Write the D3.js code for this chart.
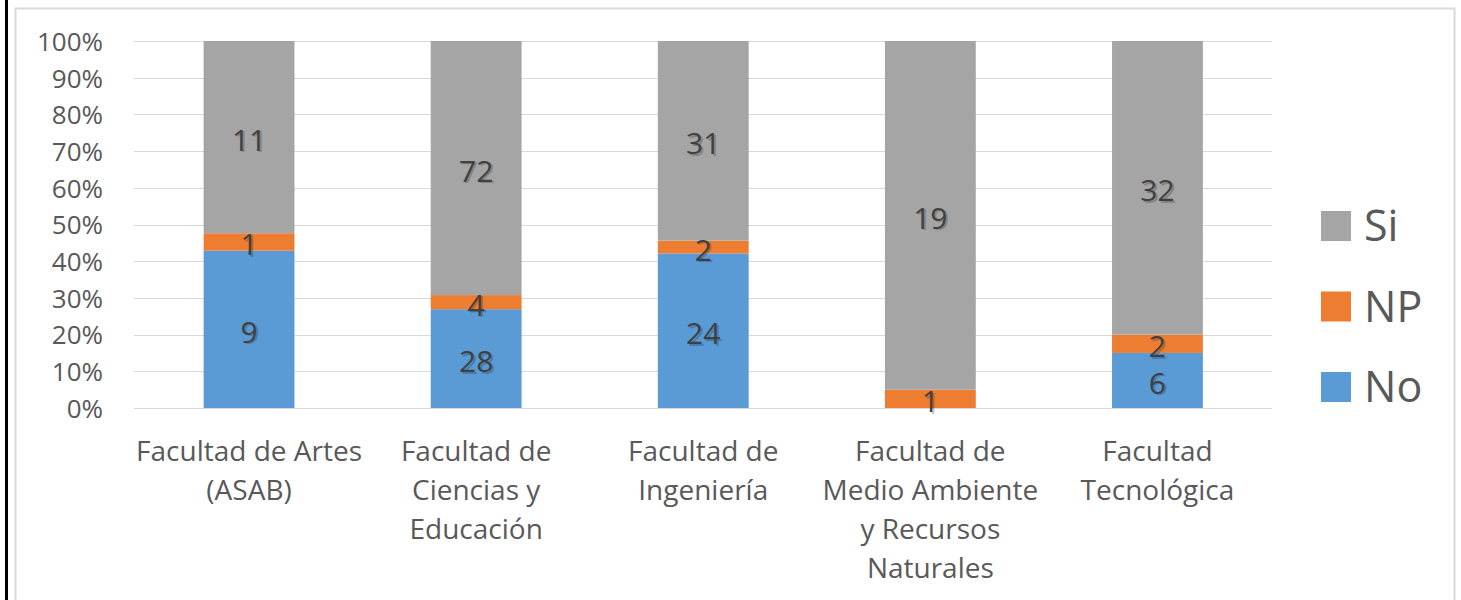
<!DOCTYPE html>
<html>
<head>
<meta charset="utf-8">
<script src="https://cdn.jsdelivr.net/npm/d3@7"></script>
<style>
  body { margin: 0; background: #fff; }
  svg { display: block; font-family: "Open Sans", sans-serif; }
</style>
</head>
<body>
<div id="chart"></div>
<script>
// data
var categories = [
  "Facultad de Artes (ASAB)",
  "Facultad de Ciencias y Educación",
  "Facultad de Ingeniería",
  "Facultad de Medio Ambiente y Recursos Naturales",
  "Facultad Tecnológica"
];
// wrapped lines as they appear under each bar
var categoryLines = [
  ["Facultad de Artes", "(ASAB)"],
  ["Facultad de", "Ciencias y", "Educación"],
  ["Facultad de", "Ingeniería"],
  ["Facultad de", "Medio Ambiente", "y Recursos", "Naturales"],
  ["Facultad", "Tecnológica"]
];
var seriesNames = ["No", "NP", "Si"];
var noValues = [9, 28, 24, 0, 6];
var npValues = [1, 4, 2, 1, 2];
var siValues = [11, 72, 31, 19, 32];
var yTicks = [0, 0.1, 0.2, 0.3, 0.4, 0.5, 0.6, 0.7, 0.8, 0.9, 1];

var colors = { No: "#5b9bd5", NP: "#ed7d31", Si: "#a5a5a5" };

var W = 1461, H = 600;
var svg = d3.select("#chart").append("svg")
    .attr("width", W)
    .attr("height", H);

// outer frame
svg.append("rect")
    .attr("x", 15.5).attr("y", 8.5)
    .attr("width", 1439).attr("height", 620)
    .attr("fill", "none")
    .attr("stroke", "#d9d9d9")
    .attr("stroke-width", 2);
svg.append("line")
    .attr("x1", 6.5).attr("x2", 6.5)
    .attr("y1", 0).attr("y2", H)
    .attr("stroke", "#000")
    .attr("stroke-width", 3);

var rows = categories.map(function(c, i) {
  return { cat: c, No: noValues[i], NP: npValues[i], Si: siValues[i] };
});

var stacked = d3.stack()
    .keys(seriesNames)
    .offset(d3.stackOffsetExpand)(rows);

var x = d3.scaleBand()
    .domain(categories)
    .range([135.5, 1271])
    .paddingInner(0.6)
    .paddingOuter(0.3);

var y = d3.scaleLinear()
    .domain([0, 1])
    .range([408, 41]);

// gridlines
svg.append("g")
    .selectAll("line")
    .data(yTicks)
    .enter()
    .append("line")
      .attr("x1", 134).attr("x2", 1272)
      .attr("y1", function(d) { return Math.round(y(d)) + 0.5; })
      .attr("y2", function(d) { return Math.round(y(d)) + 0.5; })
      .attr("stroke", "#d9d9d9")
      .attr("stroke-width", 1.2);

// y axis labels
var yAxis = svg.append("g")
    .attr("transform", "translate(106,0)")
    .call(d3.axisLeft(y).tickValues(yTicks).tickFormat(d3.format(".0%")).tickSize(0));
yAxis.select(".domain").remove();
yAxis.selectAll("text")
    .attr("font-family", "Open Sans, sans-serif")
    .attr("font-size", 26)
    .attr("fill", "#595959")
    .attr("dy", "0.36em");

// bars
var layers = svg.append("g")
    .selectAll("g")
    .data(stacked)
    .enter()
    .append("g")
      .attr("fill", function(d) { return colors[d.key]; });

layers.selectAll("rect")
    .data(function(d) { return d; })
    .enter()
    .append("rect")
      .attr("x", function(d) { return x(d.data.cat); })
      .attr("y", function(d) { return y(d[1]); })
      .attr("width", x.bandwidth())
      .attr("height", function(d) { return y(d[0]) - y(d[1]); });

// data labels
var labels = [];
stacked.forEach(function(layer) {
  layer.forEach(function(d) {
    var v = d.data[layer.key];
    if (v > 0) labels.push({ cat: d.data.cat, v: v, mid: (d[0] + d[1]) / 2 });
  });
});

var lab = svg.append("g")
    .attr("text-anchor", "middle")
    .attr("font-size", 30)
    .selectAll("g")
    .data(labels)
    .enter()
    .append("g")
      .attr("transform", function(d) {
        return "translate(" + (x(d.cat) + x.bandwidth() / 2) + "," + y(d.mid) + ")";
      });
lab.append("text")
    .attr("dx", 2).attr("dy", "0.5em")
    .attr("fill", "#000").attr("opacity", 0.2)
    .text(function(d) { return d.v; });
lab.append("text")
    .attr("dy", "0.45em")
    .attr("fill", "#404040")
    .text(function(d) { return d.v; });

// category labels
var xAxis = svg.append("g")
    .attr("text-anchor", "middle")
    .attr("font-size", 28)
    .attr("fill", "#595959")
    .selectAll("text")
    .data(categories)
    .enter()
    .append("text")
      .attr("x", function(d) { return x(d) + x.bandwidth() / 2; })
      .attr("y", 461);
xAxis.selectAll("tspan")
    .data(function(d, i) { return categoryLines[i]; })
    .enter()
    .append("tspan")
      .attr("x", function() { return d3.select(this.parentNode).attr("x"); })
      .attr("dy", function(d, i) { return i === 0 ? 0 : 39; })
      .text(function(d) { return d; });

// legend
var legendOrder = ["Si", "NP", "No"];
var legend = svg.append("g")
    .selectAll("g")
    .data(legendOrder)
    .enter()
    .append("g")
      .attr("transform", function(d, i) { return "translate(1321," + (211 + i * 80.5) + ")"; });
legend.append("rect")
    .attr("width", 30).attr("height", 30)
    .attr("fill", function(d) { return colors[d]; });
legend.append("text")
    .attr("x", 43).attr("y", 15)
    .attr("dy", "0.36em")
    .attr("font-size", 43)
    .attr("fill", "#595959")
    .text(function(d) { return d; });
</script>
</body>
</html>
